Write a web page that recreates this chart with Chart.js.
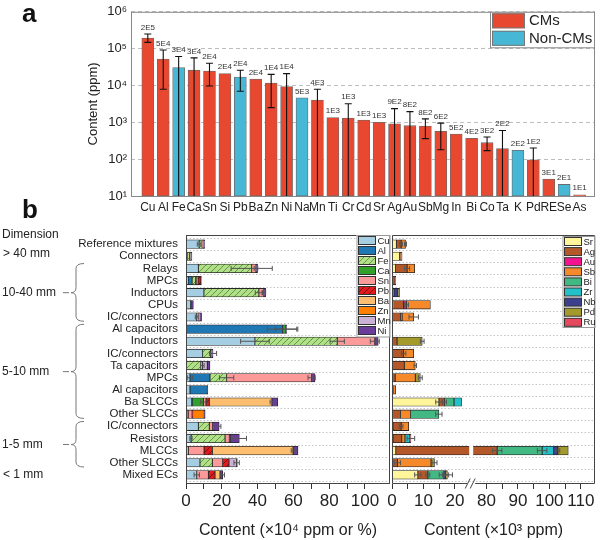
<!DOCTYPE html>
<html>
<head>
<meta charset="utf-8">
<script src="https://cdn.jsdelivr.net/npm/chart.js@4.4.1/dist/chart.umd.min.js"></script>
<style>
  html, body { margin: 0; padding: 0; background: #fff; }
  #wrap { position: relative; width: 600px; height: 540px; overflow: hidden; }
  canvas { position: absolute; }
  #topChart { left: 0; top: 0; }
  #leftChart { left: 0; top: 195px; }
  #rightChart { left: 385px; top: 195px; }
</style>
</head>
<body>
<div id="wrap">
  <canvas id="topChart" width="600" height="215" style="width:600px;height:215px"></canvas>
  <canvas id="leftChart" width="392" height="345" style="width:392px;height:345px"></canvas>
  <canvas id="rightChart" width="215" height="345" style="width:215px;height:345px"></canvas>
</div>
<script>
const FONT = "'Liberation Sans', Arial, Helvetica, sans-serif";
Chart.defaults.font.family = FONT;
Chart.defaults.color = '#222';
Chart.defaults.animation = false;
Chart.defaults.plugins.legend.display = false;
Chart.defaults.plugins.tooltip.enabled = false;

// ---------- panel a: average content per element (ppm)
const elements = ['Cu','Al','Fe','Ca','Sn','Si','Pb','Ba','Zn','Ni','Na','Mn','Ti','Cr','Cd','Sr','Ag','Au','Sb','Mg','In','Bi','Co','Ta','K','Pd','RE','Se','As'];
const contents = [193000, 52000, 30500, 26000, 24500, 21000, 17000, 15000, 11700, 9400, 4600, 4000, 1350, 1300, 1150, 1000, 910, 810, 790, 570, 480, 370, 280, 195, 173, 96, 29, 20.6, 10.8];
// error bar ends, 1 = runs down to the axis, null = no error bar
const errLow  = [148000, 7900, 1, 1, 9700, null, 7000, null, 2500, 1, null, 1, null, 1, null, null, 1, 1, 360, 180, null, null, 170, 1, null, 1, null, null, null];
const errHigh = [250000, 92000, 61000, 56000, 40000, null, 26000, null, 20000, 21000, null, 7900, null, 3200, null, null, 2350, 1950, 1240, 950, null, null, 400, 600, null, 200, null, null, null];
const valueLabels = ['2E5','5E4','3E4','3E4','2E4','2E4','2E4','2E4','1E4','1E4','5E3','4E3','1E3','1E3','1E3','1E3','9E2','8E2','8E2','6E2','5E2','4E2','3E2','2E2','2E2','1E2','3E1','2E1','1E1'];
const nonCMs = ['Fe','Pb','Na','K','Se'];
const yTicksA = [1e1, 1e2, 1e3, 1e4, 1e5, 1e6];

// ---------- panel b: composition of each component type
const rowLabels = ['Reference mixtures','Connectors','Relays','MPCs','Inductors','CPUs','IC/connectors','Al capacitors','Inductors','IC/connectors','Ta capacitors','MPCs','Al capacitors','Ba SLCCs','Other SLCCs','IC/connectors','Resistors','MLCCs','Other SLCCs','Mixed ECs'];
const dimGroups = [
  { label: '10-40 mm', from: 2, to: 6 },
  { label: '5-10 mm', from: 7, to: 14 },
  { label: '1-5 mm', from: 15, to: 18 }
];

// left part, x10^4 ppm (or %)
const leftElems = ['Cu','Al','Fe','Ca','Sn','Pb','Ba','Zn','Mn','Ni'];
const cu = [7.3, 0.8, 6.9, 1.2, 10.0, 2.6, 6.0, 0, 38.5, 9.3, 0.3, 2.2, 2.2, 3.2, 0.5, 6.9, 2.8, 1.3, 7.8, 6.0];
const al = [0, 0, 0, 2.2, 0, 0, 0, 54.0, 0, 0, 0, 11.2, 9.7, 0.3, 0, 0, 0, 0, 0, 0];
const fe = [1.7, 1.2, 29.8, 2.0, 30.7, 0, 0.8, 0, 46.0, 4.5, 8.0, 9.3, 0, 0, 0, 6.1, 19.0, 0, 6.9, 0];
const ca = [0, 0, 0, 0.3, 0, 0, 0, 1.9, 0, 0, 0, 0, 0, 6.2, 0.7, 0, 0, 0, 0, 0];
const sn = [0.6, 0.4, 2.4, 1.0, 2.8, 0, 0.4, 0, 21.0, 0.5, 0.8, 47.5, 0, 1.5, 2.2, 1.9, 2.4, 8.8, 5.8, 6.5];
const pb = [0, 0, 0, 1.6, 0, 0, 0, 0, 0, 0, 0, 0, 0, 1.8, 0.3, 0.6, 0.4, 4.7, 3.5, 3.7];
const ba = [0, 0, 0, 0, 0, 0, 0, 0, 0, 0, 0, 0, 0, 35.0, 0, 0, 0, 45.0, 0, 2.8];
const zn = [0, 0, 0, 0, 0, 0, 0, 0, 0, 0, 0, 0, 0, 0, 6.5, 0, 0, 0, 0, 0];
const mn = [0.3, 0.3, 0, 0, 0, 0.3, 0.5, 0, 0, 0, 2.8, 0, 0, 0, 0, 0, 0, 0, 4.3, 0];
const ni = [0.5, 0.6, 0.9, 0.3, 1.0, 1.2, 1.0, 0.3, 1.9, 0.8, 1.5, 1.9, 0.3, 3.3, 0.5, 3.0, 5.2, 2.8, 0.4, 1.5];
// [row, element, half width]
const leftErrors = [
  [0,'Cu',1.0], [2,'Fe',11.5], [2,'Sn',1.0], [4,'Fe',2.0], [4,'Sn',1.0], [6,'Cu',0.8],
  [7,'Al',8.5], [7,'Ca',6.0], [8,'Cu',8.0], [8,'Fe',4.0], [8,'Sn',2.5], [9,'Ni',2.0],
  [10,'Sn',1.0], [11,'Cu',1.5], [11,'Fe',4.0], [11,'Sn',2.0], [13,'Ca',1.5], [13,'Ba',1.0],
  [15,'Ni',1.0], [16,'Cu',0.6], [16,'Ni',4.0], [17,'Ba',1.0], [18,'Mn',1.5], [19,'Cu',1.5], [19,'Ni',1.0]
];

// right part, x10^3 ppm, axis broken between 25 and 75
const rightElems = ['Sr','Ag','Au','Sb','Bi','Zr','Nb','Pd','Ru'];
const sr = [1.4, 2.4, 1.1, 0, 0, 0.5, 0, 0, 0, 0, 0, 0, 0, 14.9, 0, 0.4, 0.4, 1.2, 0.2, 8.2];
const ag = [1.5, 0.5, 3.7, 1.0, 0.6, 3.2, 2.7, 0, 1.6, 3.7, 3.9, 1.0, 0.3, 1.8, 2.7, 2.5, 2.7, 82.2, 1.5, 3.2];
const au = [0.1, 0, 0, 0, 0, 0.9, 0.5, 0, 0, 0, 0, 0, 0, 0, 0, 0, 0, 0, 0, 0];
const sb = [1.3, 0.3, 2.4, 0.2, 0, 7.6, 3.7, 0, 0, 3.2, 3.5, 6.4, 0.9, 0, 3.2, 2.4, 1.0, 0, 10.7, 0];
const bi = [0, 0, 0, 0, 0, 0, 0, 0, 0, 0, 0, 0, 0, 3.0, 9.0, 0, 0, 14.3, 0, 5.1];
const zr = [0, 0, 0, 0, 0, 0, 0, 0, 0, 0, 0, 0, 0, 2.4, 0, 0, 1.6, 3.6, 0, 0];
const nb = [0, 0, 0, 0, 1.3, 0, 0, 0, 0, 0, 0, 0, 0, 0, 0, 0, 0, 1.4, 0, 0.6];
const pd = [0, 0, 0, 0, 0.5, 0, 0, 0, 8.0, 0, 0, 1.6, 0, 0, 0, 0, 0, 3.3, 1.1, 0.5];
const ru = [0, 0, 0, 0, 0, 0, 0, 0, 0, 0, 0, 0, 0, 0, 0, 0, 0.3, 0, 0, 0];
const rightErrors = [
  [0,'Ag',0.4], [0,'Sb',0.3], [2,'Ag',0.8], [5,'Au',0.6], [6,'Sb',1.5], [8,'Pd',0.6],
  [9,'Ag',0.7], [10,'Sb',0.4], [11,'Pd',0.6], [13,'Sr',1.0], [13,'Ag',0.6], [14,'Bi',1.0],
  [15,'Ag',0.6], [16,'Ru',1.2], [17,'Ag',1.5], [17,'Bi',1.5], [17,'Nb',0.6], [18,'Ag',1.0],
  [18,'Pd',0.8], [19,'Sr',1.0], [19,'Ag',0.6], [19,'Bi',1.5], [19,'Pd',1.6]
];
const BREAK_LO = 25, BREAK_HI = 75;

// ---------- styles
const CM_RED = '#e8482f';
const NONCM_BLUE = '#47b7d6';
const SUP = ['⁰','¹','²','³','⁴','⁵','⁶'];

function hatch(bg, line) {
  const c = document.createElement('canvas');
  c.width = 6; c.height = 6;
  const g = c.getContext('2d');
  g.fillStyle = bg; g.fillRect(0, 0, 6, 6);
  g.strokeStyle = line; g.lineWidth = 1;
  g.beginPath();
  g.moveTo(0, 6); g.lineTo(6, 0);
  g.moveTo(-1, 1); g.lineTo(1, -1);
  g.moveTo(5, 7); g.lineTo(7, 5);
  g.stroke();
  return g.createPattern(c, 'repeat');
}

const leftFills = ['#a6cee3', '#1f78b4', hatch('#b2df8a', '#5e9c3e'), '#33a02c', '#fb9a99',
                   hatch('#e31a1c', '#7d0d0d'), '#fdbf6f', '#ff7f00', '#cab2d6', '#6a3d9a'];
const rightFills = ['#fff59a', '#b4582a', '#f5138f', '#f68a2a', '#42b883', '#25c1c9', '#3b3f8c', '#a49a2c', '#e4495e'];

// ---------- panel a
const topExtras = {
  id: 'topExtras',
  afterDatasetsDraw(chart) {
    const { ctx, chartArea: ca, scales: { x, y } } = chart;
    ctx.save();
    ctx.strokeStyle = '#111';
    ctx.lineWidth = 1.1;
    ctx.font = `8px ${FONT}`;
    ctx.textAlign = 'center';
    ctx.textBaseline = 'middle';
    elements.forEach((e, i) => {
      const px = x.getPixelForValue(i);
      let top = y.getPixelForValue(contents[i]);
      if (errHigh[i] != null) {
        const yh = y.getPixelForValue(errHigh[i]);
        const yl = Math.min(ca.bottom, y.getPixelForValue(errLow[i]));
        ctx.beginPath();
        ctx.moveTo(px, yl); ctx.lineTo(px, yh);
        ctx.moveTo(px - 3.5, yh); ctx.lineTo(px + 3.5, yh);
        if (yl < ca.bottom - 1) { ctx.moveTo(px - 3.5, yl); ctx.lineTo(px + 3.5, yl); }
        ctx.stroke();
        top = Math.min(top, yh);
      }
      ctx.fillStyle = '#333';
      ctx.fillText(valueLabels[i], px, top - 6.5);
    });
    ctx.restore();
  },
  afterDraw(chart) {
    const { ctx, chartArea: ca } = chart;
    ctx.save();
    ctx.strokeStyle = '#888';
    ctx.lineWidth = 1;
    ctx.strokeRect(ca.left + 0.5, ca.top + 0.5, ca.right - ca.left - 1, ca.bottom - ca.top);
    // legend in the upper right corner
    const lx = ca.right - 105, ly = ca.top;
    ctx.fillStyle = '#fff';
    ctx.fillRect(lx, ly, 105, 36);
    ctx.strokeRect(lx + 0.5, ly + 0.5, 104, 35.5);
    [['CMs', CM_RED], ['Non-CMs', NONCM_BLUE]].forEach(([t, c], k) => {
      const sy = ly + 1.5 + k * 17.5;
      ctx.fillStyle = c;
      ctx.fillRect(lx + 2, sy, 33, 15);
      ctx.strokeStyle = '#777';
      ctx.strokeRect(lx + 2.5, sy + 0.5, 32, 14);
      ctx.fillStyle = '#222';
      ctx.font = `15px ${FONT}`;
      ctx.textAlign = 'left';
      ctx.textBaseline = 'middle';
      ctx.fillText(t, lx + 39, sy + 8);
    });
    ctx.font = `bold 26px ${FONT}`;
    ctx.fillStyle = '#111';
    ctx.textBaseline = 'alphabetic';
    ctx.fillText('a', 22, 22);
    ctx.restore();
  }
};

new Chart(document.getElementById('topChart'), {
  type: 'bar',
  data: {
    datasets: [{
      data: elements.map((e, i) => ({ x: i, y: contents[i] })),
      backgroundColor: elements.map(e => nonCMs.includes(e) ? NONCM_BLUE : CM_RED),
      borderColor: '#6b6b6b',
      borderWidth: 0.8,
      borderSkipped: false,
      barThickness: 12
    }]
  },
  options: {
    responsive: false,
    layout: { padding: { left: 80, right: 5, top: 9, bottom: 0 } },
    scales: {
      x: {
        type: 'linear', min: -1.09, max: 29.0, offset: false,
        afterBuildTicks: s => { s.ticks = elements.map((_, i) => ({ value: i })); },
        ticks: { callback: v => elements[v], autoSkip: false, maxRotation: 0, minRotation: 0, padding: 4, font: { size: 12 } },
        grid: { display: false, drawTicks: false },
        border: { display: false },
        afterFit: s => { s.height = 19; }
      },
      y: {
        type: 'logarithmic', min: 10, max: 1e6,
        afterBuildTicks: s => { s.ticks = yTicksA.map(v => ({ value: v })); },
        ticks: { callback: v => '10' + SUP[Math.round(Math.log10(v))], padding: 4, font: { size: 13 } },
        grid: { color: '#bdbdbd', drawTicks: false },
        border: { display: false, dash: [4, 3] },
        title: { display: true, text: 'Content (ppm)', font: { size: 13 }, padding: { top: 6, bottom: 0 } },
        afterFit: s => { s.width = 51; }
      }
    }
  },
  plugins: [topExtras]
});

// ---------- panel b helpers
function clampBreak(v) {
  if (v <= BREAK_LO) return v;
  if (v < BREAK_HI) return BREAK_LO;
  return v - (BREAK_HI - BREAK_LO);
}
const noBreak = v => v;

function buildPanel(names, series, fills, transform) {
  const cum = rowLabels.map(() => 0);
  const ends = {};
  const datasets = names.map((name, k) => {
    const vals = series[k];
    const data = [];
    ends[name] = [];
    vals.forEach((v, i) => {
      if (v > 0) data.push({ y: i, x: [transform(cum[i]), transform(cum[i] + v)] });
      cum[i] += v;
      ends[name][i] = cum[i];
    });
    return {
      label: name, data,
      backgroundColor: fills[k],
      borderColor: '#262626', borderWidth: 0.8, borderSkipped: false,
      barThickness: 8.5, grouped: false
    };
  });
  return { datasets, ends, totals: cum };
}

function drawLegendBox(ctx, box, names, fills, step) {
  ctx.save();
  ctx.fillStyle = '#fff';
  ctx.fillRect(box.x, box.y, box.w, box.h);
  ctx.strokeStyle = '#999';
  ctx.lineWidth = 1;
  ctx.strokeRect(box.x + 0.5, box.y + 0.5, box.w, box.h);
  ctx.font = `9.5px ${FONT}`;
  ctx.textAlign = 'left';
  ctx.textBaseline = 'middle';
  names.forEach((n, k) => {
    const cy = box.y + 5.5 + k * step;
    ctx.fillStyle = fills[k];
    ctx.fillRect(box.x + 2, cy - 4, 17, 8);
    ctx.strokeStyle = '#333';
    ctx.strokeRect(box.x + 2, cy - 4, 17, 8);
    ctx.fillStyle = '#222';
    ctx.fillText(n, box.x + 21, cy + 0.5);
  });
  ctx.restore();
}

function drawErrors(chart, errors, ends, transform) {
  const { ctx, scales: { x, y } } = chart;
  ctx.save();
  ctx.strokeStyle = '#555';
  ctx.lineWidth = 1;
  errors.forEach(([row, name, err]) => {
    const end = ends[name][row];
    const x1 = x.getPixelForValue(transform(end - err));
    const x2 = x.getPixelForValue(transform(end + err));
    const py = y.getPixelForValue(row);
    ctx.beginPath();
    ctx.moveTo(x1, py); ctx.lineTo(x2, py);
    ctx.moveTo(x1, py - 2.5); ctx.lineTo(x1, py + 2.5);
    ctx.moveTo(x2, py - 2.5); ctx.lineTo(x2, py + 2.5);
    ctx.stroke();
  });
  ctx.restore();
}

function drawRowGrid(chart) {
  const { ctx, chartArea: ca, scales: { y } } = chart;
  ctx.save();
  ctx.strokeStyle = '#c4c4c4';
  ctx.lineWidth = 1;
  ctx.setLineDash([1.5, 2]);
  for (let i = 0; i <= rowLabels.length; i++) {
    const py = Math.round(y.getPixelForValue(i - 0.5)) + 0.5;
    ctx.beginPath();
    ctx.moveTo(ca.left, py); ctx.lineTo(ca.right, py);
    ctx.stroke();
  }
  ctx.restore();
}

function drawBrace(ctx, x, y1, y2, ym) {
  ctx.beginPath();
  ctx.moveTo(x + 8, y1);
  ctx.quadraticCurveTo(x, y1, x, y1 + 5);
  ctx.lineTo(x, ym - 5);
  ctx.quadraticCurveTo(x, ym, x - 5, ym);
  ctx.quadraticCurveTo(x, ym, x, ym + 5);
  ctx.lineTo(x, y2 - 5);
  ctx.quadraticCurveTo(x, y2, x + 8, y2);
  ctx.moveTo(x - 13, ym);
  ctx.lineTo(x - 7, ym);
  ctx.stroke();
}

function rowScale(extra) {
  return Object.assign({
    type: 'linear', min: -0.75, max: rowLabels.length - 0.25, reverse: true, offset: false,
    afterBuildTicks: s => { s.ticks = rowLabels.map((_, i) => ({ value: i })); },
    grid: { display: false, drawTicks: false },
    border: { display: false }
  }, extra);
}

// ---------- panel b, left part
const leftPanel = buildPanel(leftElems, [cu, al, fe, ca, sn, pb, ba, zn, mn, ni], leftFills, noBreak);

const leftExtras = {
  id: 'leftExtras',
  beforeDatasetsDraw(chart) { drawRowGrid(chart); },
  afterDatasetsDraw(chart) { drawErrors(chart, leftErrors, leftPanel.ends, noBreak); },
  afterDraw(chart) {
    const { ctx, chartArea: ca, scales: { y } } = chart;
    ctx.save();
    ctx.strokeStyle = '#444';
    ctx.lineWidth = 1;
    ctx.strokeRect(ca.left + 0.5, ca.top + 0.5, ca.right - ca.left - 1, ca.bottom - ca.top - 1);
    ctx.restore();
    drawLegendBox(ctx, { x: ca.right - 33.5, y: ca.top, w: 33, h: 101.5 }, leftElems, leftFills, 10);

    ctx.save();
    ctx.fillStyle = '#111';
    ctx.font = `bold 26px ${FONT}`;
    ctx.textAlign = 'left';
    ctx.textBaseline = 'alphabetic';
    ctx.fillText('b', 22, 23);
    ctx.font = `12px ${FONT}`;
    ctx.fillStyle = '#222';
    ctx.textBaseline = 'middle';
    ctx.fillText('Dimension', 2, y.getPixelForValue(-0.8));
    ctx.fillText('> 40 mm', 3, y.getPixelForValue(0.75));
    ctx.fillText('< 1 mm', 3, y.getPixelForValue(rowLabels.length - 1));
    ctx.strokeStyle = '#777';
    ctx.lineWidth = 1;
    dimGroups.forEach(g => {
      const y1 = y.getPixelForValue(g.from - 0.4);
      const y2 = y.getPixelForValue(g.to + 0.35);
      const ym = y.getPixelForValue((g.from + g.to) / 2);
      drawBrace(ctx, 76, y1, y2, ym);
      ctx.fillText(g.label, 2, ym);
    });
    ctx.restore();
  }
};

new Chart(document.getElementById('leftChart'), {
  type: 'bar',
  data: { datasets: leftPanel.datasets },
  options: {
    responsive: false,
    indexAxis: 'y',
    layout: { padding: { left: 0, right: 2, top: 40, bottom: 0 } },
    scales: {
      x: {
        type: 'linear', min: 0, max: 114,
        afterBuildTicks: s => { s.ticks = [0, 10, 20, 30, 40, 50, 60, 70, 80, 90, 100].map(v => ({ value: v })); },
        ticks: { callback: v => v % 20 === 0 ? v : '', autoSkip: false, maxRotation: 0, padding: 2, font: { size: 17 } },
        grid: { drawOnChartArea: false, drawTicks: true, tickLength: 5, color: '#333' },
        border: { display: false },
        title: { display: true, text: 'Content (×10⁴ ppm or %)', font: { size: 16 }, padding: { top: 0, bottom: 0 } },
        afterFit: s => { s.height = 56; }
      },
      y: rowScale({
        ticks: { callback: v => rowLabels[v], autoSkip: false, padding: 8, font: { size: 11.5 } },
        afterFit: s => { s.width = 186; }
      })
    }
  },
  plugins: [leftExtras]
});

// ---------- panel b, right part (broken axis)
const rightPanel = buildPanel(rightElems, [sr, ag, au, sb, bi, zr, nb, pd, ru], rightFills, clampBreak);
const rightTicks = [0, 5, 10, 15, 20, 80, 85, 90, 95, 100, 105, 110];

const rightExtras = {
  id: 'rightExtras',
  beforeDatasetsDraw(chart) { drawRowGrid(chart); },
  afterDatasetsDraw(chart) {
    const { ctx, scales: { x, y } } = chart;
    // white gap where a bar crosses the break
    const bx = x.getPixelForValue(BREAK_LO);
    ctx.save();
    ctx.fillStyle = '#fff';
    rightPanel.totals.forEach((t, i) => {
      if (t > BREAK_HI) {
        const py = y.getPixelForValue(i);
        ctx.fillRect(bx - 1.5, py - 5.5, 4, 11);
      }
    });
    ctx.restore();
    drawErrors(chart, rightErrors, rightPanel.ends, clampBreak);
  },
  afterDraw(chart) {
    const { ctx, chartArea: ca, scales: { x } } = chart;
    const bx = x.getPixelForValue(BREAK_LO) + 0.5;
    ctx.save();
    ctx.strokeStyle = '#444';
    ctx.lineWidth = 1;
    const l = ca.left + 0.5, r = ca.right - 0.5, t = ca.top + 0.5, b = ca.bottom - 0.5;
    ctx.beginPath();
    ctx.moveTo(l, b); ctx.lineTo(l, t); ctx.lineTo(r, t); ctx.lineTo(r, b);
    ctx.lineTo(bx + 4, b);
    ctx.moveTo(bx - 4, b); ctx.lineTo(l, b);
    ctx.stroke();
    // "//" break mark on the axis
    ctx.beginPath();
    ctx.moveTo(bx - 6, b + 5); ctx.lineTo(bx - 1, b - 5);
    ctx.moveTo(bx - 1, b + 5); ctx.lineTo(bx + 4, b - 5);
    ctx.stroke();
    ctx.restore();
    drawLegendBox(ctx, { x: ca.right - 32.5, y: ca.top + 1, w: 32, h: 91 }, rightElems, rightFills, 10.1);
  }
};

new Chart(document.getElementById('rightChart'), {
  type: 'bar',
  data: { datasets: rightPanel.datasets },
  options: {
    responsive: false,
    indexAxis: 'y',
    layout: { padding: { left: 7, right: 5, top: 40, bottom: 0 } },
    scales: {
      x: {
        type: 'linear', min: 0, max: 64.5,
        afterBuildTicks: s => { s.ticks = rightTicks.map(v => ({ value: clampBreak(v) })); },
        ticks: {
          callback: v => {
            const real = v <= BREAK_LO ? v : v + (BREAK_HI - BREAK_LO);
            return real % 10 === 0 ? real : '';
          },
          autoSkip: false, maxRotation: 0, padding: 2, font: { size: 17 }
        },
        grid: { drawOnChartArea: false, drawTicks: true, tickLength: 5, color: '#333' },
        border: { display: false },
        title: { display: true, text: 'Content (×10³ ppm)', font: { size: 16 }, padding: { top: 0, bottom: 0 } },
        afterFit: s => { s.height = 56; }
      },
      y: rowScale({ display: false })
    }
  },
  plugins: [rightExtras]
});
</script>
</body>
</html>
